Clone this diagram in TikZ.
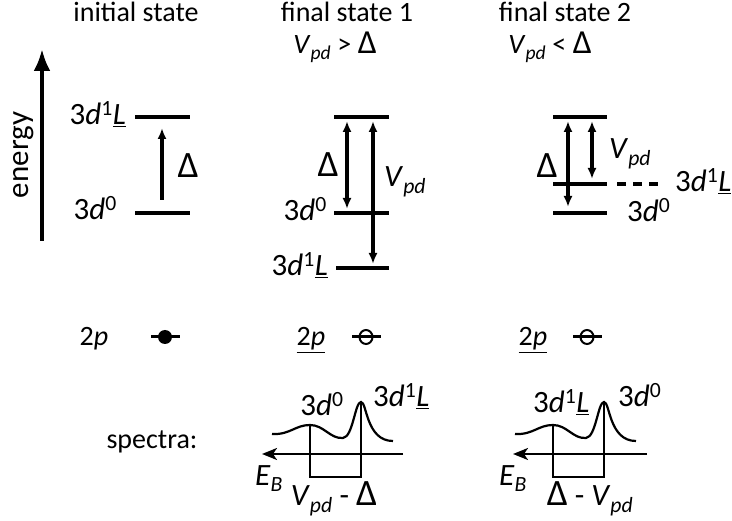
\documentclass[tikz,border=0pt]{standalone}
\usepackage{fontspec}
\usepackage{graphicx}
\setmainfont{Carlito}
\usetikzlibrary{arrows.meta}
\newcommand{\dzero}{3\textit{d}\textsuperscript{0}}
\newcommand{\doneL}{3\textit{d}\textsuperscript{1}\underline{\textit{L}}}
\newcommand{\Vpd}{\textit{V}\textsubscript{\textit{pd}}}
\newcommand{\Dl}{\scalebox{1.2}{Δ}}
\begin{document}
\begin{tikzpicture}[x=1pt,y=-1pt,
  lvl/.style={line width=3.6pt},
  uparr/.style={line width=3.2pt,-{Latex[length=11pt,width=9pt]}},
  darr/.style={line width=3.2pt,{Latex[length=11pt,width=9pt]}-{Latex[length=11pt,width=9pt]}},
  title/.style={font=\fontsize{28}{32}\selectfont,inner sep=0pt},
  lab/.style={font=\fontsize{31}{36}\selectfont,inner sep=0pt},
  small/.style={font=\fontsize{28}{33}\selectfont,inner sep=0pt},
  spec/.style={line width=2.2pt},
  boxl/.style={line width=1.6pt},
  axarr/.style={line width=2.2pt,-{Stealth[length=15pt,width=12pt,inset=4pt]}},
]
\useasboundingbox (0,0) rectangle (732,521);

% titles
\node[title,anchor=base] (t0) at (136,22) {initial state};
\node[title,anchor=base] (t1) at (347,22) {final state 1};
\node[title,anchor=base] (t2) at (565,22) {final state 2};
\node[title,anchor=base] (c1) at (335,54) {\Vpd\ {>} \Dl};
\node[title,anchor=base] (c2) at (550,54) {\Vpd\ {<} \Dl};

% energy axis
\coordinate (e0) at (42,241);
\coordinate (e1) at (42,49);
\draw[line width=4pt,-{Latex[length=22pt,width=17pt]}] (e0) -- (e1);
\node[lab,rotate=90,anchor=base] (en) at (28,155) {energy};

% initial state
\coordinate (a1) at (135,117); \coordinate (a2) at (190,117);
\coordinate (b1) at (135,213); \coordinate (b2) at (190,213);
\draw[lvl] (a1) -- (a2);
\draw[lvl] (b1) -- (b2);
\coordinate (ia0) at (162,200); \coordinate (ia1) at (162,128);
\draw[uparr] (ia0) -- (ia1);
\node[lab,anchor=base east] (l0a) at (126,125) {\doneL};
\node[lab,anchor=base east] (l0b) at (117,220) {\dzero};
\node[lab] (d0) at (188,166) {\Dl};

% final state 1
\coordinate (f1a) at (334,117); \coordinate (f1b) at (389,117);
\coordinate (f1c) at (334,213); \coordinate (f1d) at (389,213);
\coordinate (f1e) at (336,268); \coordinate (f1f) at (389,268);
\draw[lvl] (f1a) -- (f1b);
\draw[lvl] (f1c) -- (f1d);
\draw[lvl] (f1e) -- (f1f);
\coordinate (p1) at (347,121); \coordinate (p2) at (347,209);
\coordinate (q1) at (373,121); \coordinate (q2) at (373,264);
\draw[darr] (p1) -- (p2);
\draw[darr] (q1) -- (q2);
\node[lab] (d1) at (328,165) {\Dl};
\node[lab,anchor=base west] (v1) at (384,187) {\Vpd};
\node[lab,anchor=base east] (l1a) at (327,221) {\dzero};
\node[lab,anchor=base east] (l1b) at (328,276) {\doneL};

% final state 2
\coordinate (g1a) at (553,117); \coordinate (g1b) at (607,117);
\coordinate (g1c) at (553,184); \coordinate (g1d) at (607,184);
\coordinate (g1e) at (553,213); \coordinate (g1f) at (607,213);
\coordinate (g1g) at (617,184); \coordinate (g1h) at (660,184);
\draw[lvl] (g1a) -- (g1b);
\draw[lvl] (g1c) -- (g1d);
\draw[lvl] (g1e) -- (g1f);
\draw[lvl,dash pattern=on 9pt off 7pt] (g1g) -- (g1h);
\coordinate (r1) at (568,121); \coordinate (r2) at (568,207);
\coordinate (s1) at (592,121); \coordinate (s2) at (592,179);
\draw[darr] (r1) -- (r2);
\draw[darr] (s1) -- (s2);
\node[lab] (d2) at (547,166) {\Dl};
\node[lab,anchor=base west] (v2) at (609,159) {\Vpd};
\node[lab,anchor=base west] (l2a) at (675,192) {\doneL};
\node[lab,anchor=base west] (l2b) at (627,222) {\dzero};

% 2p row
\node[small,anchor=base] (tp0) at (94,346) {2\textit{p}};
\node[small,anchor=base] (tp1) at (311,346) {\underline{2\textit{p}}};
\node[small,anchor=base] (tp2) at (533,346) {\underline{2\textit{p}}};
\coordinate (h0a) at (151,337); \coordinate (h0b) at (180,337);
\draw[line width=3pt] (h0a) -- (h0b);
\fill (165,337) ellipse [x radius=7pt, y radius=7pt];
\coordinate (h1a) at (352,337); \coordinate (h1b) at (381,337);
\draw[line width=3pt] (h1a) -- (h1b);
\draw[line width=2pt] (366,337) ellipse [x radius=6.5pt, y radius=7pt];
\coordinate (h2a) at (573,337); \coordinate (h2b) at (602,337);
\draw[line width=3pt] (h2a) -- (h2b);
\draw[line width=2pt] (587,337) ellipse [x radius=6.5pt, y radius=7pt];

% spectra
\node[title,anchor=base] (sp) at (152,449) {spectra:};

\foreach \dx in {0,243}{
  \begin{scope}[shift={(\dx,0)}]
  \draw[spec] (272,434) .. controls (290,435) and (295,425) .. (310,425)
    .. controls (324,425) and (330,439) .. (343,438)
    .. controls (353,437) and (355,402) .. (361,402)
    .. controls (367,402) and (366,441) .. (393,441);
  \draw[boxl] (310,425) -- (310,477) -- (361,477) -- (361,402);
  \end{scope}
}
\coordinate (x1a) at (403,454); \coordinate (x1b) at (262,454);
\draw[axarr] (x1a) -- (x1b);
\coordinate (x2a) at (647,454); \coordinate (x2b) at (513,454);
\draw[axarr] (x2a) -- (x2b);

\node[lab,anchor=base] (s1a) at (322,416) {\dzero};
\node[lab,anchor=base west] (s1b) at (373,407) {\doneL};
\node[lab,anchor=base west] (eb1) at (255,486) {\textit{E}\textsubscript{\textit{B}}};
\node[lab,anchor=base] (w1) at (334,506) {\Vpd\ - \Dl};

\node[lab,anchor=base west] (s2a) at (533,413) {\doneL};
\node[lab,anchor=base west] (s2b) at (618,407) {\dzero};
\node[lab,anchor=base west] (eb2) at (499,486) {\textit{E}\textsubscript{\textit{B}}};
\node[lab,anchor=base] (w2) at (590,506) {\Dl\ - \Vpd};
\end{tikzpicture}
\end{document}
